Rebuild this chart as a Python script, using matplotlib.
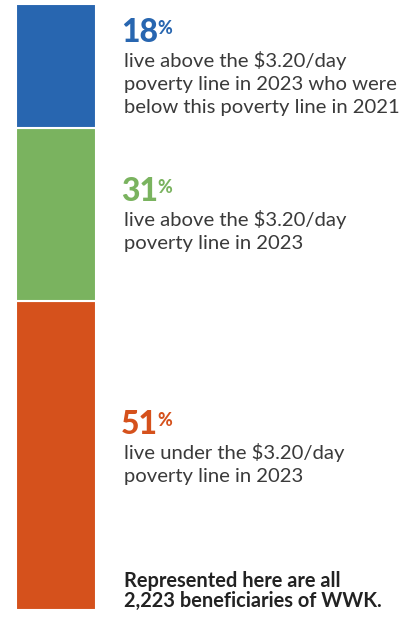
import matplotlib
matplotlib.use('Agg')
import matplotlib.pyplot as plt

# data
shares = ['18', '31', '51']                      # label values (%)
seg_heights = [20.5, 28.5, 51.0]                 # segment heights as drawn (top -> bottom)
colors = ['#2866b0', '#7ab35f', '#d5511c']
captions = [
    ['live above the $3.20/day', 'poverty line in 2023 who were', 'below this poverty line in 2021'],
    ['live above the $3.20/day', 'poverty line in 2023'],
    ['live under the $3.20/day', 'poverty line in 2023'],
]
footer = ['Represented here are all', '2,223 beneficiaries of WWK.']

W, H = 417, 617
fig = plt.figure(figsize=(W / 100, H / 100), dpi=100)
plt.rcParams['font.family'] = ['Lato', 'DejaVu Sans']

# stacked bar
ax = fig.add_axes([16 / W, 7 / H, 80 / W, 606 / H])
bottom = 0
for h, c in reversed(list(zip(seg_heights, colors))):
    ax.bar(0, h, bottom=bottom, width=1.0, color=c, edgecolor='white', linewidth=1.5)
    bottom += h
ax.set_xlim(-0.5, 0.5)
ax.set_ylim(0, sum(seg_heights))
ax.axis('off')

# overlay for text, pixel coords (y down)
tx = fig.add_axes([0, 0, 1, 1])
tx.set_xlim(0, W)
tx.set_ylim(H, 0)
tx.axis('off')

num_base = [42, 201, 434]
for s, cap, c, yb in zip(shares, captions, colors, num_base):
    t = tx.text(121, yb, s, color=c, fontsize=23, fontweight='black',
                va='baseline', ha='left')
    tx.annotate('%', xy=(1, 1), xycoords=t, xytext=(-0.5, -1.5), textcoords='offset points',
                color=c, fontsize=13, fontweight='black', va='top', ha='left')
    for i, line in enumerate(cap):
        tx.text(124, yb + 25 + 23 * i, line, color='#3a3a3a', fontsize=14.6,
                va='baseline', ha='left')

for i, line in enumerate(footer):
    tx.text(124, 587 + 19.5 * i, line, color='#222222', fontsize=14.4, fontweight='bold',
            va='baseline', ha='left')

fig.savefig('out.png', dpi=100)
